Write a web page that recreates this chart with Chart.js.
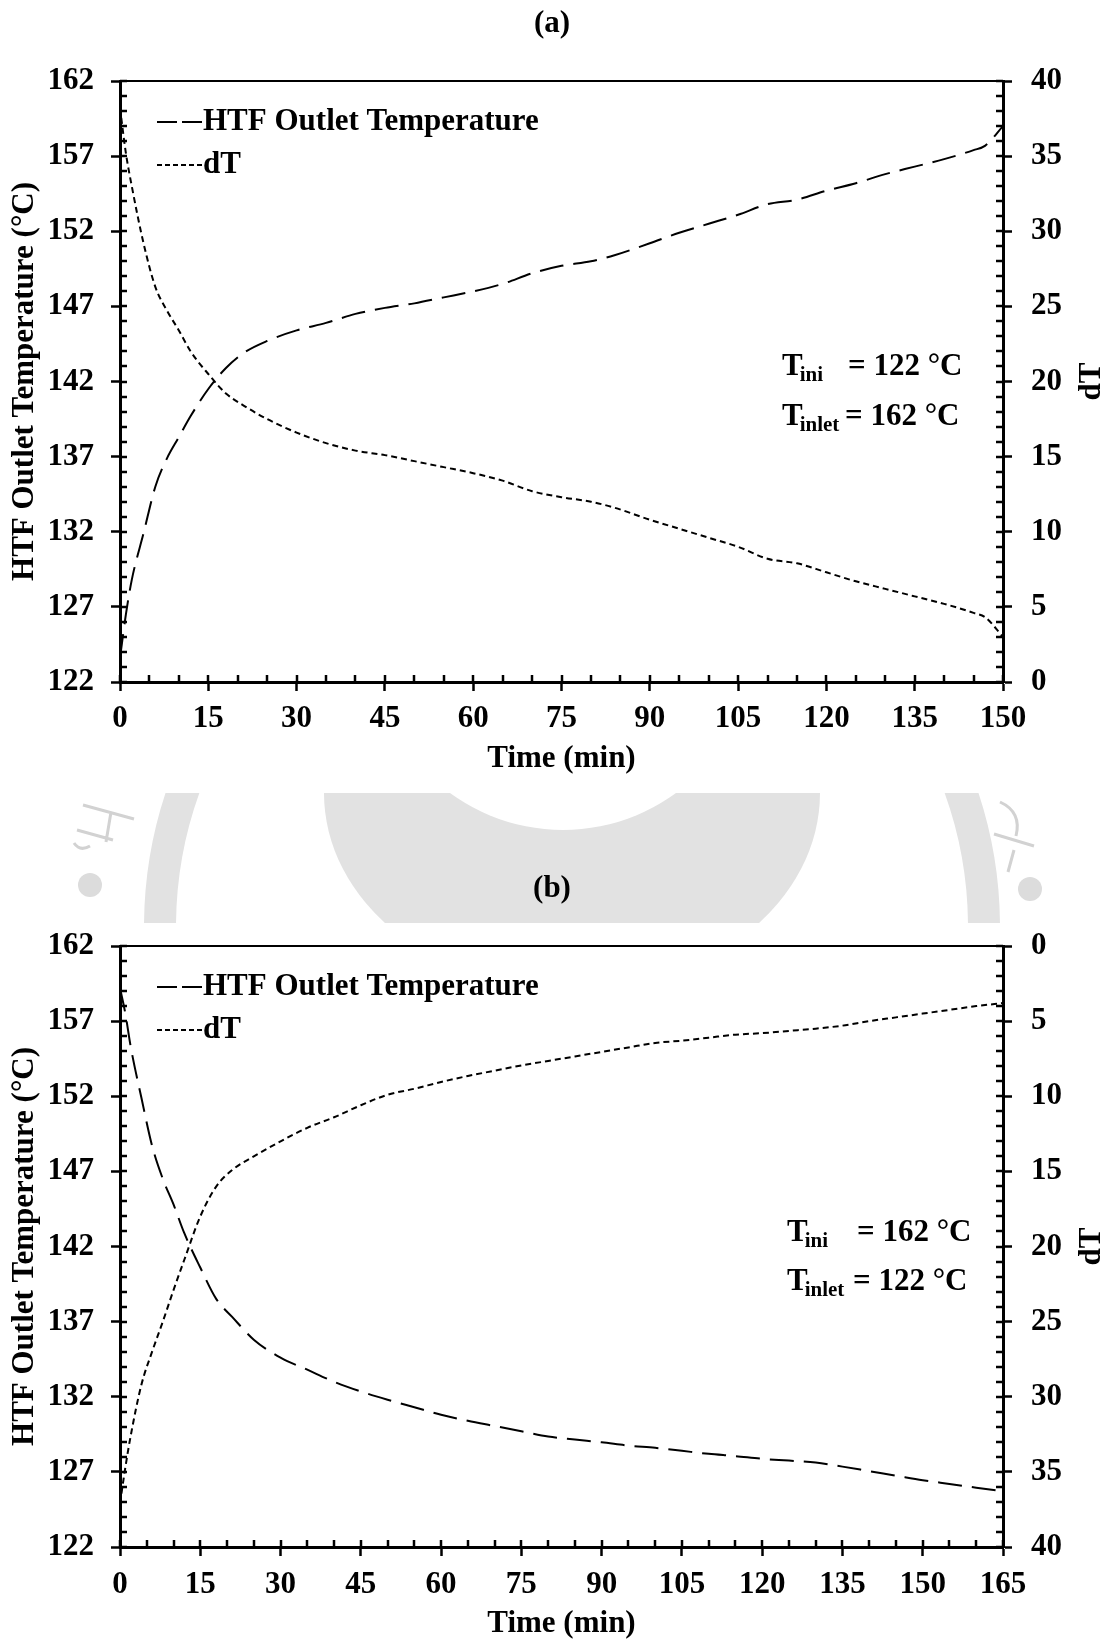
<!DOCTYPE html>
<html>
<head>
<meta charset="utf-8">
<title>HTF outlet temperature and dT</title>
<script src="https://cdn.jsdelivr.net/npm/chart.js@4.4.1/dist/chart.umd.min.js"></script>
<style>
  html, body { margin: 0; padding: 0; background: #fff; overflow: hidden; }
  #page { position: relative; width: 1104px; height: 1640px; }
  #page canvas { position: absolute; left: 0; }
  #mark { top: 0; }
  #chartA { top: 0; }
  #chartB { top: 820px; }
</style>
</head>
<body>
<div id="page">
  <canvas id="mark" width="1104" height="1640"></canvas>
  <canvas id="chartA" width="1104" height="820"></canvas>
  <canvas id="chartB" width="1104" height="820"></canvas>
</div>
<script>
// (a) charging: Tini = 122 °C, Tinlet = 162 °C
const timeA = [0, 1, 2, 4, 6, 8, 10, 12, 15, 18, 21, 25, 30, 35, 40, 45, 50, 55, 60, 65,
  70, 75, 80, 84, 90, 95, 100, 105, 110, 115, 120, 125, 130, 135, 140, 145, 147, 150];
const htfA = [123.6, 126.5, 128.8, 131.9, 135.0, 136.9, 138.3, 139.7, 141.5, 142.9,
  143.9, 144.7, 145.4, 145.9, 146.5, 146.9, 147.2, 147.6, 148.0, 148.5,
  149.2, 149.7, 150.0, 150.4, 151.2, 151.9, 152.5, 153.1, 153.8, 154.1,
  154.7, 155.2, 155.8, 156.3, 156.8, 157.4, 157.7, 159.0];
const dTA = [38.2, 35.2, 33.0, 29.2, 26.3, 24.7, 23.4, 22.0, 20.5, 19.2,
  18.4, 17.5, 16.6, 15.9, 15.4, 15.1, 14.7, 14.3, 13.9, 13.4,
  12.7, 12.3, 12.0, 11.6, 10.8, 10.2, 9.6, 9.0, 8.2, 7.9,
  7.3, 6.7, 6.2, 5.7, 5.2, 4.6, 4.3, 3.0];

// (b) discharging: Tini = 162 °C, Tinlet = 122 °C
const timeB = [0, 1, 2, 4, 6, 8, 10, 12, 15, 18, 21, 25, 30, 35, 40, 45, 50, 55, 60, 65,
  70, 75, 80, 85, 90, 95, 100, 105, 110, 115, 120, 125, 130, 135, 140, 145, 150, 155, 160, 165];
const htfB = [159.2, 157.5, 155.3, 151.9, 148.7, 146.5, 144.8, 142.9, 140.6, 138.5,
  137.3, 135.8, 134.6, 133.8, 133.0, 132.35, 131.8, 131.3, 130.8, 130.4,
  130.05, 129.7, 129.35, 129.15, 128.97, 128.75, 128.6, 128.4, 128.2, 128.05,
  127.87, 127.75, 127.62, 127.35, 127.05, 126.75, 126.45, 126.2, 125.95, 125.7];
const dTB = [37.1, 34.7, 32.6, 29.2, 27.0, 25.0, 22.9, 20.9, 18.0, 16.0,
  14.9, 14.0, 13.0, 12.1, 11.4, 10.6, 9.9, 9.5, 9.05, 8.65,
  8.3, 7.95, 7.65, 7.35, 7.05, 6.75, 6.45, 6.3, 6.1, 5.9,
  5.8, 5.65, 5.5, 5.3, 5.0, 4.75, 4.5, 4.25, 4.0, 3.8];

const seriesLabels = ["HTF Outlet Temperature", "dT"];
const FONT = '"Liberation Serif", "Times New Roman", serif';

Chart.defaults.font.family = FONT;
Chart.defaults.font.size = 31;
Chart.defaults.font.weight = "bold";
Chart.defaults.color = "#000";

function toPoints(xs, ys) {
  return xs.map((x, i) => ({ x: x, y: ys[i] }));
}

// frame top line, inner minor ticks, legend, notes, right axis title
function panelPlugin(cfg) {
  return {
    id: "panel" + cfg.name,
    afterDraw(chart) {
      const { ctx, chartArea: a, scales } = chart;
      ctx.save();
      ctx.strokeStyle = "#000";
      ctx.fillStyle = "#000";

      ctx.lineWidth = 2;
      ctx.beginPath();
      ctx.moveTo(a.left, a.top);
      ctx.lineTo(a.right, a.top);
      ctx.stroke();

      ctx.lineWidth = 2.5;
      ctx.beginPath();
      for (let v = scales.x.min; v <= scales.x.max; v += 5) {
        const px = Math.round(scales.x.getPixelForValue(v));
        ctx.moveTo(px, a.bottom);
        ctx.lineTo(px, a.bottom - 7);
      }
      for (let v = scales.y.min; v <= scales.y.max; v += 1) {
        const py = Math.round(scales.y.getPixelForValue(v));
        ctx.moveTo(a.left, py);
        ctx.lineTo(a.left + 7, py);
      }
      for (let v = scales.y1.min; v <= scales.y1.max; v += 1) {
        const py = Math.round(scales.y1.getPixelForValue(v));
        ctx.moveTo(a.right, py);
        ctx.lineTo(a.right - 7, py);
      }
      ctx.stroke();

      // Legend
      const dashes = [[20, 5], [5, 3]];
      const rows = [41, 84];
      ctx.font = `bold 31px ${FONT}`;
      ctx.textAlign = "left";
      ctx.textBaseline = "middle";
      chart.data.datasets.forEach((ds, i) => {
        const y = a.top + rows[i];
        ctx.lineWidth = 2;
        ctx.setLineDash(dashes[i]);
        ctx.beginPath();
        ctx.moveTo(a.left + 37, y);
        ctx.lineTo(a.left + 82, y);
        ctx.stroke();
        ctx.setLineDash([]);
        ctx.fillText(ds.label, a.left + 83, y);
      });

      // Notes
      ctx.textBaseline = "alphabetic";
      cfg.notes.forEach((n) => {
        const base = a.top + n.dy;
        ctx.font = `bold 31px ${FONT}`;
        ctx.fillText("T", n.x, base);
        const w = ctx.measureText("T").width;
        ctx.font = `bold 21px ${FONT}`;
        ctx.fillText(n.sub, n.x + w - 3, base + 6);
        ctx.font = `bold 31px ${FONT}`;
        ctx.fillText(n.rest, n.eqX, base);
      });

      // Right axis title
      ctx.font = `bold 31px ${FONT}`;
      ctx.textAlign = "center";
      ctx.textBaseline = "middle";
      ctx.translate(chart.width - 12, (a.top + a.bottom) / 2);
      ctx.rotate(-Math.PI / 2);
      ctx.fillText("dT", 0, 0);
      ctx.restore();
    },
  };
}

function axisStyle() {
  return {
    grid: {
      display: true,
      drawOnChartArea: false,
      drawTicks: true,
      tickLength: 9,
      tickWidth: 2.5,
      tickColor: "#000",
    },
    border: { display: true, color: "#000", width: 3 },
  };
}

function makeChart(id, cfg) {
  return new Chart(document.getElementById(id), {
    type: "line",
    data: {
      datasets: [
        {
          label: seriesLabels[0],
          data: toPoints(cfg.time, cfg.htf),
          yAxisID: "y",
          borderColor: "#000",
          borderWidth: 2,
          borderDash: [24, 10],
          pointRadius: 0,
          cubicInterpolationMode: "monotone",
          fill: false,
        },
        {
          label: seriesLabels[1],
          data: toPoints(cfg.time, cfg.dT),
          yAxisID: "y1",
          borderColor: "#000",
          borderWidth: 2,
          borderDash: [6, 4],
          pointRadius: 0,
          cubicInterpolationMode: "monotone",
          fill: false,
        },
      ],
    },
    options: {
      responsive: false,
      animation: false,
      layout: { padding: 0 },
      plugins: {
        legend: { display: false },
        tooltip: { enabled: false },
        title: {
          display: true,
          text: cfg.title,
          font: { size: 31, weight: "bold" },
          color: "#000",
          padding: { top: cfg.titleTop, bottom: 38.4 },
        },
      },
      scales: {
        x: Object.assign(axisStyle(), {
          type: "linear",
          position: "bottom",
          min: 0,
          max: cfg.xMax,
          ticks: { stepSize: 15, padding: cfg.xTickPad, autoSkip: false, maxRotation: 0 },
          title: { display: true, text: "Time (min)", padding: { top: 0, bottom: cfg.xTitlePad } },
          afterFit: (s) => { s.height = cfg.xHeight; },
        }),
        y: Object.assign(axisStyle(), {
          type: "linear",
          position: "left",
          min: 122,
          max: 162,
          ticks: { stepSize: 5, padding: 17 },
          title: { display: true, text: "HTF Outlet Temperature (°C)", padding: { top: 6.4, bottom: 0 } },
          afterFit: (s) => { s.width = 120; },
        }),
        y1: Object.assign(axisStyle(), {
          type: "linear",
          position: "right",
          min: 0,
          max: 40,
          reverse: cfg.reverse,
          ticks: { stepSize: 5, padding: 19 },
          afterFit: (s) => { s.width = 101; },
        }),
      },
    },
    plugins: [panelPlugin(cfg)],
  });
}

// faint watermark seen between the two panels
function drawMark() {
  const c = document.getElementById("mark").getContext("2d");
  c.save();
  c.beginPath();
  c.rect(0, 793, 1104, 130);
  c.clip();
  c.fillStyle = "#e2e2e2";
  c.beginPath();
  c.ellipse(572, 793, 248, 198, 0, 0, Math.PI * 2);
  c.fill();
  c.fillStyle = "#fff";
  c.beginPath();
  c.arc(563, 639, 191, 0, Math.PI * 2);
  c.fill();
  c.strokeStyle = "#e2e2e2";
  c.lineWidth = 32;
  c.beginPath();
  c.arc(572, 927, 412, 0, Math.PI * 2);
  c.stroke();
  c.fillStyle = "#dcdcdc";
  c.beginPath();
  c.arc(90, 885, 12, 0, Math.PI * 2);
  c.fill();
  c.beginPath();
  c.arc(1030, 889, 12, 0, Math.PI * 2);
  c.fill();
  c.strokeStyle = "#d2d2d2";
  c.lineWidth = 3;
  c.beginPath();
  c.moveTo(83, 805); c.lineTo(134, 819);
  c.moveTo(111, 812); c.lineTo(106, 842);
  c.moveTo(77, 830); c.lineTo(113, 840);
  c.moveTo(74, 843); c.quadraticCurveTo(80, 852, 90, 846);
  c.moveTo(1000, 802); c.quadraticCurveTo(1022, 812, 1016, 836);
  c.moveTo(994, 834); c.lineTo(1034, 846);
  c.moveTo(1014, 850); c.lineTo(1008, 872);
  c.stroke();
  c.restore();
}

drawMark();

makeChart("chartA", {
  name: "A",
  title: "(a)",
  titleTop: 5.4,
  time: timeA,
  htf: htfA,
  dT: dTA,
  xMax: 150,
  reverse: false,
  xHeight: 138,
  xTickPad: 9,
  xTitlePad: 42,
  notes: [
    { x: 782, dy: 294, sub: "ini", eqX: 848, rest: "= 122 °C" },
    { x: 782, dy: 344, sub: "inlet", eqX: 845, rest: "= 162 °C" },
  ],
});

makeChart("chartB", {
  name: "B",
  title: "(b)",
  titleTop: 50.4,
  time: timeB,
  htf: htfB,
  dT: dTB,
  xMax: 165,
  reverse: true,
  xHeight: 93,
  xTickPad: 10,
  xTitlePad: -3,
  notes: [
    { x: 787, dy: 294.7, sub: "ini", eqX: 857, rest: "= 162 °C" },
    { x: 787, dy: 344, sub: "inlet", eqX: 853, rest: "= 122 °C" },
  ],
});
</script>
</body>
</html>
